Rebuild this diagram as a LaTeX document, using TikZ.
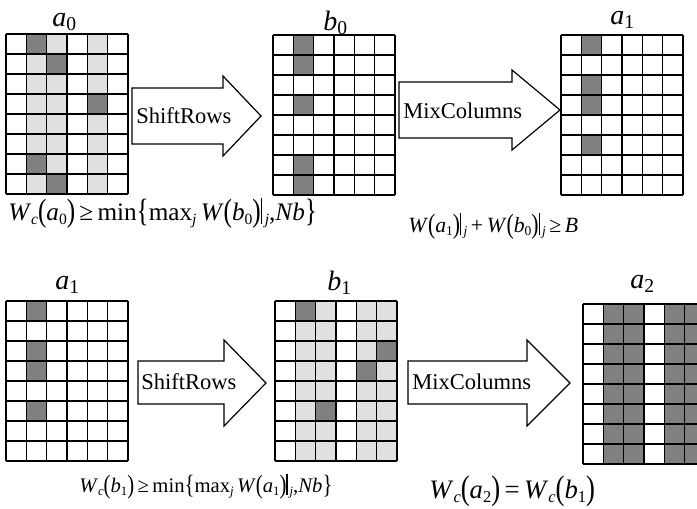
\documentclass[tikz,border=0pt]{standalone}
\usepackage{fontspec}
\setmainfont{Liberation Serif}
\usepackage{graphicx}
\definecolor{dk}{RGB}{128,128,128}
\definecolor{lt}{RGB}{224,224,224}
\newcommand\mi[1]{\textit{#1}}
\newcommand\lo[2][0.62]{\raisebox{-0.38ex}{\scalebox{#1}{#2}}}
\newcommand\bp[1]{\raisebox{-0.12ex}{\scalebox{1}[1.28]{#1}}}
\newcommand\vb{\rule[-0.35ex]{0.055em}{1.05em}}
\newcommand\gridlines{%
  \foreach \i in {0,...,6} \draw[gl] (\i*20.333,0) -- (\i*20.333,160);
  \foreach \j in {0,...,8} \draw[gl] (0,\j*20) -- (122,\j*20);}
\tikzset{
  gl/.style={line width=0.8pt,black},
  blockarrow/.style={draw,line width=0.9pt,fill=white,line join=miter},
  lbl/.style={anchor=base west,inner sep=0pt,font=\fontsize{21}{21}\selectfont},
  atext/.style={anchor=base west,inner sep=0pt,font=\fontsize{16.9}{17}\selectfont},
  frm/.style={anchor=base west,inner sep=0pt}
}
\begin{document}
\begin{tikzpicture}[x=0.75pt,y=-0.75pt]
\useasboundingbox (0,0) rectangle (697,508);
\clip (0,0) rectangle (697,508);
\fill[white] (0,0) rectangle (697,508);

% a0
\begin{scope}[shift={(6,34)}]
  \foreach \c in {1,2,4} \fill[lt] (\c*20.333,0) rectangle ++(20.333,160);
  \foreach \c/\r in {1/0,1/6,2/1,2/7,4/3} \fill[dk] (\c*20.333,\r*20) rectangle ++(20.333,20);
  \gridlines
\end{scope}
% b0
\begin{scope}[shift={(273,35)}]
  \foreach \r in {0,1,3,6,7} \fill[dk] (20.333,\r*20) rectangle ++(20.333,20);
  \gridlines
\end{scope}
% a1 top
\begin{scope}[shift={(561,35)}]
  \foreach \r in {0,2,3,5} \fill[dk] (20.333,\r*20) rectangle ++(20.333,20);
  \gridlines
\end{scope}
% a1 bottom
\begin{scope}[shift={(6,301)}]
  \foreach \r in {0,2,3,5} \fill[dk] (20.333,\r*20) rectangle ++(20.333,20);
  \gridlines
\end{scope}
% b1
\begin{scope}[shift={(275,301)}]
  \foreach \c in {1,2,4,5} \fill[lt] (\c*20.333,0) rectangle ++(20.333,160);
  \foreach \c/\r in {1/0,2/5,4/3,5/2} \fill[dk] (\c*20.333,\r*20) rectangle ++(20.333,20);
  \gridlines
\end{scope}
% a2
\begin{scope}[shift={(583,304)}]
  \foreach \c in {1,2,4,5} \fill[dk] (\c*20.333,0) rectangle ++(20.333,160);
  \gridlines
\end{scope}

% grid labels
\node[lbl] (la0) at (52,26) {\textit{a}\lo[0.7]{0}};
\node[lbl] (lb0) at (323,30) {\textit{b}\lo[0.7]{0}};
\node[lbl] (la1t) at (610,24) {\textit{a}\lo[0.7]{1}};
\node[lbl] (la1b) at (55,289) {\textit{a}\lo[0.7]{1}};
\node[lbl] (lb1) at (327,290) {\textit{b}\lo[0.7]{1}};
\node[lbl] (la2) at (630,288) {\textit{a}\lo[0.7]{2}};

% arrows
\draw[blockarrow] (132,88) -- (223,88) -- (223,76) -- (261,116) -- (223,156) -- (223,144) -- (132,144) -- cycle;
\node[atext] (sr1) at (136,123) {ShiftRows};
\draw[blockarrow] (399,82) -- (512,82) -- (512,70) -- (560,110) -- (512,150) -- (512,138) -- (399,138) -- cycle;
\node[atext] (mc1) at (403,118) {MixColumns};
\draw[blockarrow] (138,361) -- (224,361) -- (224,340) -- (266,383) -- (224,426) -- (224,404) -- (138,404) -- cycle;
\node[atext] (sr2) at (141,389) {ShiftRows};
\draw[blockarrow] (408,361) -- (527,361) -- (527,340) -- (570,383) -- (527,426) -- (527,404) -- (408,404) -- cycle;
\node[atext] (mc2) at (412,389) {MixColumns};

% formulas
\node[frm,font=\fontsize{18.9}{20}\selectfont] (f1) at (8,220)
  {\mi{W}\lo{\mi{c}}\bp{(}\mi{a}\lo{0}\bp{)}\,≥\,min\bp{\{}max\lo{\mi{j}}\,\mi{W}\bp{(}\mi{b}\lo{0}\bp{)}\vb\lo{\,\mi{j}},\mi{Nb}\bp{\}}};
\node[frm,font=\fontsize{16.3}{17}\selectfont] (f2) at (408,232)
  {\mi{W}\bp{(}\mi{a}\lo{1}\bp{)}\vb\lo{\,\mi{j}}\,+\,\mi{W}\bp{(}\mi{b}\lo{0}\bp{)}\vb\lo{\,\mi{j}}\,≥\,\mi{B}};
\node[frm,font=\fontsize{15.5}{16}\selectfont] (f3) at (79,492)
  {\mi{W}\lo{\mi{c}}\bp{(}\mi{b}\lo{1}\bp{)}\,≥\,min\bp{\{}max\lo{\mi{j}}\,\mi{W}\bp{(}\mi{a}\lo{1}\bp{)}\vb\lo{\,\mi{j}},\mi{Nb}\bp{\}}};
\node[frm,font=\fontsize{20}{20}\selectfont] (f4) at (429,498)
  {\mi{W}\lo{\mi{c}}\bp{(}\mi{a}\lo{2}\bp{)}\,=\,\mi{W}\lo{\mi{c}}\bp{(}\mi{b}\lo{1}\bp{)}};
\end{tikzpicture}
\end{document}
